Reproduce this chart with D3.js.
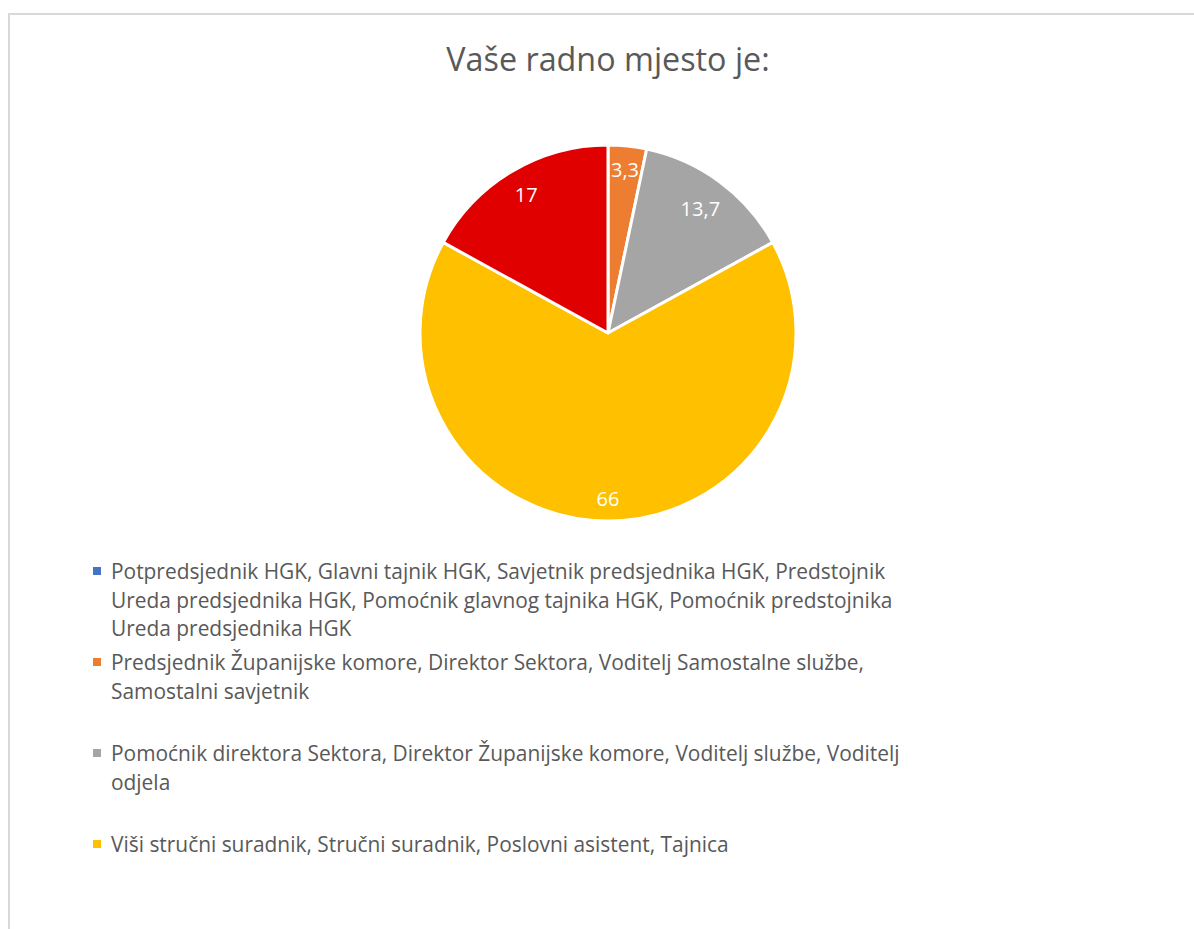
<!DOCTYPE html>
<html><head><meta charset="utf-8">
<script src="https://cdn.jsdelivr.net/npm/d3@7"></script>
<style>body{margin:0;background:#fff}svg{display:block}</style>
</head><body>
<svg id="chart" width="1194" height="929"></svg>
<script>
const title = "Vaše radno mjesto je:";
const sliceValues = [0, 3.3, 13.7, 66, 17];
const sliceLabels = ["0", "3,3", "13,7", "66", "17"];
const sliceColors = ["#4472C4", "#ED7D31", "#A5A5A5", "#FFC000", "#E00000"];
// legend entries visible in the reference (the fifth entry is cut off there)
const legendLines = [
  ["Potpredsjednik HGK, Glavni tajnik HGK, Savjetnik predsjednika HGK, Predstojnik",
   "Ureda predsjednika HGK, Pomoćnik glavnog tajnika HGK, Pomoćnik predstojnika",
   "Ureda predsjednika HGK"],
  ["Predsjednik Županijske komore, Direktor Sektora, Voditelj Samostalne službe,",
   "Samostalni savjetnik"],
  ["Pomoćnik direktora Sektora, Direktor Županijske komore, Voditelj službe, Voditelj",
   "odjela"],
  ["Viši stručni suradnik, Stručni suradnik, Poslovni asistent, Tajnica"]
];

const svg = d3.select("#chart");
const font = "'Open Sans', Lato, sans-serif";
const textColor = "#595959";

// chart border (extends past right/bottom of view)
svg.append("rect").attr("x", 9).attr("y", 14).attr("width", 1300).attr("height", 1000)
  .attr("fill", "#fff").attr("stroke", "#D9D9D9").attr("stroke-width", 2);

svg.append("text").attr("x", 608).attr("y", 71).attr("text-anchor", "middle")
  .attr("font-family", font).attr("font-size", 32.3).attr("fill", textColor).text(title);

const cx = 608, cy = 333, r = 188;
const pie = d3.pie().sort(null).value(d => d)(sliceValues);
const arc = d3.arc().innerRadius(0).outerRadius(r);
const g = svg.append("g").attr("transform", `translate(${cx},${cy})`);
g.selectAll("path").data(pie).join("path")
  .attr("d", arc).attr("fill", (d, i) => sliceColors[i])
  .attr("stroke", "#fff").attr("stroke-width", 3).attr("stroke-linejoin", "round");

// data labels at "inside end"
const lfs = 20;
pie.forEach((d, i) => {
  if (d.value === 0) return;
  const t = g.append("text").attr("font-family", font).attr("font-size", lfs)
    .attr("fill", "#fff").attr("text-anchor", "middle").attr("dominant-baseline", "central")
    .text(sliceLabels[i]);
  const w = t.node().getComputedTextLength() + 6, h = lfs * 1.25;
  const a = (d.startAngle + d.endAngle) / 2;
  const sx = Math.sin(a), sy = -Math.cos(a);
  let lo = 0, hi = r;
  for (let k = 0; k < 40; k++) {
    const m = (lo + hi) / 2;
    const px = m * sx, py = m * sy;
    const fx = Math.abs(px) + w / 2, fy = Math.abs(py) + h / 2;
    if (Math.hypot(fx, fy) > r - 9) hi = m; else lo = m;
  }
  t.attr("x", lo * sx).attr("y", lo * sy);
});

// legend
const lx = 93, tx = 111, itemStep = 91, lineStep = 28.5, ly0 = 571;
const lfs2 = 20.9;
legendLines.forEach((lines, i) => {
  const y0 = ly0 + i * itemStep;
  svg.append("rect").attr("x", lx).attr("y", y0 - 4).attr("width", 8).attr("height", 8)
    .attr("fill", sliceColors[i]);
  lines.forEach((ln, j) => {
    svg.append("text").attr("x", tx).attr("y", y0 + j * lineStep)
      .attr("dominant-baseline", "central")
      .attr("font-family", font).attr("font-size", lfs2).attr("fill", textColor).text(ln);
  });
});
</script>
</body></html>
